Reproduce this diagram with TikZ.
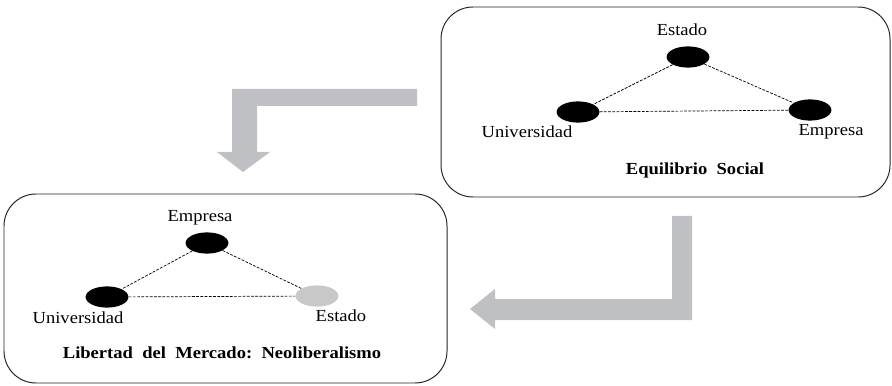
\documentclass[tikz,border=0pt]{standalone}
\usepackage{fontspec}
\setmainfont{Liberation Serif}[FakeStretch=1.1]
\usetikzlibrary{shapes.geometric}
\definecolor{arrowgray}{RGB}{190,192,195}
\definecolor{weakgray}{RGB}{200,200,200}
\begin{document}
\begin{tikzpicture}[x=0.025cm, y=-0.025cm,
  every node/.style={font=\fontsize{12}{14}\selectfont},
  actor/.style={ellipse,fill=black,minimum width=1.07cm,minimum height=0.53cm,inner sep=0pt},
  tie/.style={line width=0.5pt,dash pattern=on 2pt off 1pt},
  panel/.style={draw=black!85,line width=0.7pt,rounded corners=0.8cm},
  bigarrow/.style={fill=arrowgray,draw=none},
  caption/.style={font=\bfseries\fontsize{12}{14}\selectfont,anchor=base}]
  \useasboundingbox (0,0) rectangle (892,386);
  % Top right: balanced triangle
  \draw[panel] (441,7) rectangle (890,197);
  \node[actor] (est1) at (688,57) {};
  \node[actor] (uni1) at (578,112) {};
  \node[actor] (emp1) at (810,110) {};
  \draw[tie] (est1) -- (uni1);
  \draw[tie] (est1) -- (emp1);
  \draw[tie] (uni1) -- (emp1);
  \node[anchor=base] (lest1) at (682,36) {Estado};
  \node[anchor=base] (luni1) at (527,138) {Universidad};
  \node[anchor=base] (lemp1) at (831,136) {Empresa};
  \node[caption] (cap1) at (695,175) {Equilibrio\ \ Social};
  % Bottom left: market first
  \draw[panel] (4,194) rectangle (447,383);
  \node[actor] (emp2) at (207,243) {};
  \node[actor] (uni2) at (107,297) {};
  \node[actor,fill=weakgray] (est2) at (317,296) {};
  \draw[tie] (emp2) -- (uni2);
  \draw[tie] (emp2) -- (est2);
  \draw[tie] (uni2) -- (est2);
  \node[anchor=base] (lemp2) at (200,222) {Empresa};
  \node[anchor=base] (luni2) at (78,323) {Universidad};
  \node[anchor=base] (lest2) at (341,321) {Estado};
  \node[caption] (cap2) at (222,358) {Libertad\ \ del\ \ Mercado:\ \ Neoliberalismo};
  % Block arrows
  \fill[bigarrow] (417,89) -- (232,89) -- (232,152) -- (217,152) -- (243,172)
    -- (270,152) -- (257,152) -- (257,106) -- (417,106) -- cycle;
  \fill[bigarrow] (672,216) -- (692,216) -- (692,320) -- (495,320) -- (495,329)
    -- (470,309) -- (495,289) -- (495,299) -- (672,299) -- cycle;
\end{tikzpicture}
\end{document}
